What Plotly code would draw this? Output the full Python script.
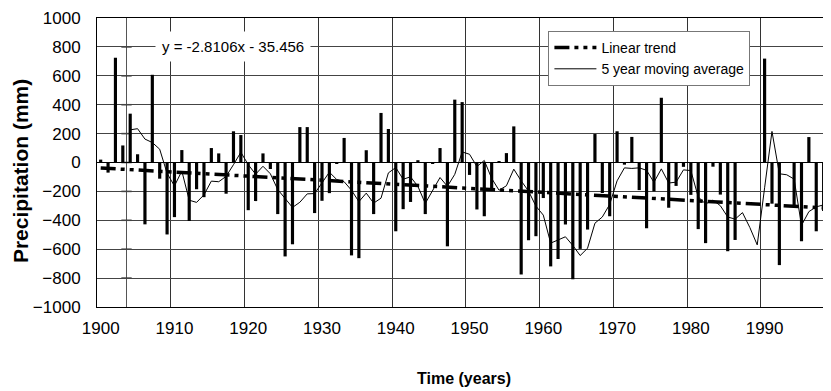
import plotly.graph_objects as go

# ---- data ----
bar_years = list(range(1900, 1999))
precip = [20, -70, 725, 118, 338, 57, -428, 607, -112, -498,
          -378, 86, -405, -185, -240, 100, 63, -216, 216, 190,
          -330, -267, 63, -45, -357, -650, -566, 245, 245, -350,
          -265, -212, -8, 170, -643, -662, 85, -357, 343, 232,
          -476, -323, -273, 16, -357, -6, 100, -580, 435, 418,
          -86, -325, -372, -185, 10, 65, 250, -775, -538, -510,
          -246, -719, -668, -429, -808, -598, -464, 197, -211, -372,
          216, -15, 177, -191, -455, -200, 448, -313, -162, -30,
          -224, -461, -558, -29, -222, -614, -536, None, None, None,
          719, -285, -710, None, -296, -545, 176, -476, -336]

ma_years = list(range(1904, 2000))
moving_avg = [226, 234, 162, 138, 92, -75, -162, -59, -261, -276,
              -224, -129, -133, -96, -15, 71, -15, -81, -26, -78,
              -187, -251, -311, -275, -217, -215, -138, -67, -118, -133,
              -192, -271, -212, -281, -247, -72, -35, -116, -99, -165,
              -283, -189, -104, -165, -82, 73, 57, -28, 14, -110,
              -192, -161, -46, -127, -198, -302, -364, -558, -536, -514,
              -574, -644, -593, -420, -377, -290, -127, -37, -41, -37,
              -54, -137, -44, -142, -136, -51, -56, -238, -287, -260,
              -299, -377, -392, -347, -450, -570, -175, 215, -78, -85,
              -115, -435, -340, -307, -293, -228]

# Linear trend as printed on the chart: y = -2.8106x - 35.456 (x = 1 for 1900)
trend_slope = -2.8106
trend_intercept = -35.456
trend_years = [1900, 1999]
trend_vals = [trend_slope * (y - 1899) + trend_intercept for y in trend_years]

x_tick_vals = [1900, 1910, 1920, 1930, 1940, 1950, 1960, 1970, 1980, 1990]
x_tick_text = [str(v) for v in x_tick_vals]
y_tick_vals = list(range(-1000, 1001, 200))

FONT = "Liberation Sans, Arial, sans-serif"

fig = go.Figure()
fig.add_trace(go.Bar(x=bar_years, y=precip, marker=dict(color="black", line=dict(width=0)),
                     showlegend=False, name="Precipitation"))
fig.add_trace(go.Scatter(x=trend_years, y=trend_vals, mode="lines", name="Linear trend",
                         line=dict(color="black", width=3.5, dash="15px,5px,4px,5px,4px,5px")))
fig.add_trace(go.Scatter(x=ma_years, y=moving_avg, mode="lines", name="5 year moving average",
                         line=dict(color="black", width=1)))

# extra crossing axis line with tick marks (as in the reference)
cross_x = 1903.5
fig.add_shape(type="line", xref="x", yref="paper", x0=cross_x, x1=cross_x, y0=0, y1=1,
              line=dict(color="#555", width=1), layer="below")
for v in y_tick_vals[1:-1]:
    fig.add_shape(type="line", xref="x", yref="y", x0=cross_x - 0.7, x1=cross_x + 0.7, y0=v, y1=v,
                  line=dict(color="#333", width=1.5), layer="below")

fig.add_annotation(x=0.079, y=800, xref="paper", yref="y", text="y = -2.8106x - 35.456",
                   showarrow=False, font=dict(family=FONT, size=15, color="black"),
                   bgcolor="white", borderpad=6, xanchor="left")

# y axis title
fig.add_annotation(x=-0.105, y=0.47, xref="paper", yref="paper", text="<b>Precipitation (mm)</b>",
                   showarrow=False, textangle=-90, xanchor="center", yanchor="middle",
                   font=dict(family=FONT, size=21, color="black"))

fig.update_layout(
    width=823, height=383,
    margin=dict(l=89, r=0, t=10, b=84),
    paper_bgcolor="white", plot_bgcolor="white",
    bargap=0.57,
    font=dict(family=FONT, size=15, color="black"),
    legend=dict(x=0.615, y=0.955, xanchor="left", yanchor="top",
                bgcolor="white", bordercolor="#777", borderwidth=1,
                font=dict(family=FONT, size=14), tracegroupgap=0, itemwidth=42),
    xaxis=dict(range=[1899.5, 1999.0], tickvals=x_tick_vals, ticktext=x_tick_text,
               automargin=False,
               showgrid=False, showline=True, linecolor="black", linewidth=1, mirror=True,
               ticks="", ticklabelstandoff=6, tickfont=dict(size=17),
               minor=dict(tick0=1909.5, dtick=10, showgrid=True, gridcolor="#333", gridwidth=1),
               title=dict(text="<b>Time (years)</b>", standoff=35, font=dict(size=16))),
    yaxis=dict(range=[-1000, 1000], tickvals=y_tick_vals, showgrid=True, gridcolor="#444",
               automargin=False,
               gridwidth=1, zeroline=True, zerolinecolor="black", zerolinewidth=1,
               showline=True, linecolor="black", linewidth=1, mirror=True,
               ticks="", ticklabelstandoff=12, tickfont=dict(size=17)),
)

fig.write_html("out.html")
